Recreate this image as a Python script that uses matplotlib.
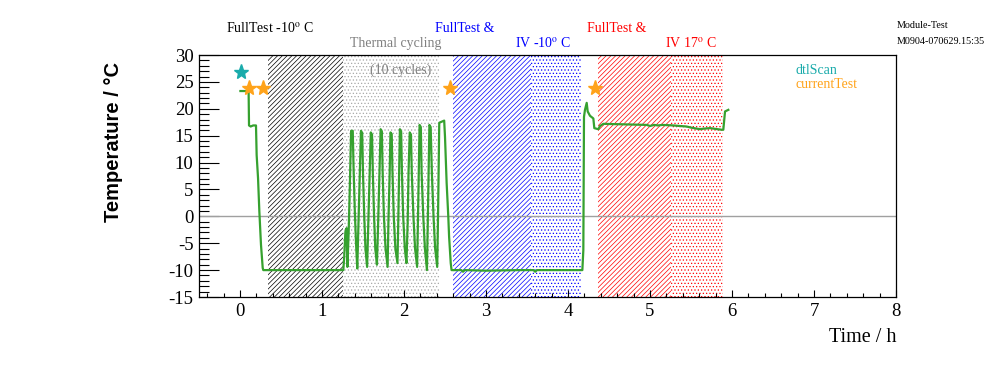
import numpy as np
import matplotlib
matplotlib.use('Agg')
import matplotlib.pyplot as plt
from matplotlib.ticker import MultipleLocator

plt.rcParams['font.family'] = ['Liberation Serif', 'DejaVu Serif']
plt.rcParams['mathtext.fontset'] = 'stix'
plt.rcParams['axes.unicode_minus'] = False
plt.rcParams['hatch.linewidth'] = 0.5

W, H = 996, 372

# temperature log (time in h, temperature in deg C)
time_h = [0.005, 0.105, 0.11, 0.13, 0.16, 0.195, 0.203, 0.22, 0.236, 0.256, 0.277, 0.284,
          0.6, 0.9, 1.26,
          1.27, 1.285, 1.30, 1.31, 1.325, 1.34, 1.355, 1.375, 1.385, 1.40, 1.415,
          1.43, 1.445, 1.46, 1.475, 1.49, 1.50, 1.515, 1.53,
          1.55, 1.565, 1.58, 1.595, 1.61, 1.62, 1.635, 1.65,
          1.67, 1.685, 1.70, 1.715, 1.73, 1.74, 1.755, 1.775,
          1.80, 1.81, 1.825, 1.835, 1.85, 1.86, 1.875, 1.895,
          1.92, 1.93, 1.94, 1.95, 1.965, 1.975, 1.99, 2.01,
          2.03, 2.045, 2.055, 2.07, 2.085, 2.095, 2.115, 2.135,
          2.16, 2.17, 2.18, 2.19, 2.205, 2.215, 2.235, 2.255,
          2.28, 2.29, 2.30, 2.31, 2.325, 2.34, 2.36, 2.38,
          2.405, 2.415, 2.425, 2.43, 2.46, 2.49, 2.50, 2.52, 2.54, 2.55, 2.57, 2.58,
          2.70, 2.72, 2.74, 3.0, 3.4, 3.58, 3.60, 3.62, 4.175,
          4.187, 4.195, 4.207, 4.228, 4.24, 4.268, 4.309, 4.321, 4.37, 4.39, 4.431,
          4.7, 4.96, 5.0, 5.05, 5.1, 5.15, 5.285, 5.447, 5.50, 5.61, 5.65, 5.732,
          5.874, 5.894, 5.915, 5.955]
temp_c = [23.3, 23.3, 16.9, 16.7, 16.9, 16.9, 11.4, 7.1, 0.9, -5.3, -9.6, -10.0,
          -10.0, -10.0, -10.0,
          -7.8, -2.9, -2.2, -9.4, -3, 6, 15.9, 15.9, 9, 1, -5,
          -9.7, -1, 8, 15.9, 15.5, 8, 0, -6,
          -9.4, -1, 8, 15.6, 15.2, 8, 0, -6,
          -9.0, -1, 8, 16.2, 15.8, 8, 0, -6,
          -9.4, -1, 8, 15.6, 15.3, 8, 0, -6,
          -8.7, -1, 8, 16.2, 15.8, 8, 0, -6,
          -8.7, -1, 8, 15.6, 15.2, 8, 0, -6,
          -9.4, -1, 8, 17.0, 16.6, 8, 0, -6,
          -10.0, -1, 8, 17.0, 16.6, 8, 0, -6,
          -9.4, 0, 12, 17.4, 17.6, 17.8, 14.8, 6.2, 0, -3.8, -8.7, -10.0,
          -10.0, -10.3, -10.0, -10.1, -10.0, -10.0, -10.3, -10.0, -10.0,
          -6.3, 18.5, 19.8, 21.1, 19.5, 18.7, 18.2, 16.4, 16.2, 16.8, 17.2,
          17.1, 17.0, 16.8, 17.0, 16.9, 17.0, 16.9, 16.7, 16.5, 16.2, 16.3, 16.4,
          16.1, 16.1, 19.5, 19.8]

# test markers
dtl_time = [0.008]
dtl_temp = [26.9]
cur_time = [0.11, 0.284, 2.56, 4.33]
cur_temp = [23.8, 23.8, 23.8, 23.8]

# shaded test phases
span_start = [0.345, 1.26, 2.60, 3.55, 4.36, 5.26]
span_end = [1.26, 2.43, 3.55, 4.16, 5.26, 5.89]
span_color = ['black', '#a8a8a8', '#0000ff', '#0000ff', '#ff0000', '#ff0000']
span_hatch = ['///////', '.....', '///////', '.....', '///////', '.....']

fig = plt.figure(figsize=(W / 100, H / 100), dpi=100)
ax = fig.add_axes([199 / W, 1 - 297 / H, 697 / W, 242 / H])

for x0, x1, c, h in zip(span_start, span_end, span_color, span_hatch):
    ax.axvspan(x0, x1, facecolor='none', edgecolor=c, hatch=h, lw=0, zorder=1)

ax.axhline(0, color='#a0a0a0', lw=1.0, zorder=2)
ax.plot(time_h, temp_c, color='#36a12f', lw=1.6, zorder=3)
ax.plot(dtl_time, dtl_temp, ls='none', marker='*', ms=11, color='#1aabab', zorder=4)
ax.plot(cur_time, cur_temp, ls='none', marker='*', ms=11, color='#ffa31a', zorder=4)

ax.set_xlim(-0.5, 8)
ax.set_ylim(-15, 30)
ax.xaxis.set_major_locator(MultipleLocator(1))
ax.xaxis.set_minor_locator(MultipleLocator(0.2))
ax.yaxis.set_major_locator(MultipleLocator(5))
ax.yaxis.set_minor_locator(MultipleLocator(1))
ax.tick_params(axis='x', which='major', direction='in', length=5, width=0.8,
               labelsize=13.5, pad=4, top=False)
ax.tick_params(axis='x', which='minor', direction='in', length=2.6, width=0.8, top=False)
ax.tick_params(axis='y', which='major', direction='in', length=14.4, width=0.8,
               labelsize=13.5, pad=4, right=False)
ax.tick_params(axis='y', which='minor', direction='in', length=7.2, width=0.8, right=False)
for s in ax.spines.values():
    s.set_linewidth(0.9)

def ftext(px, py, s, **kw):
    fig.text(px / W, 1 - py / H, s, **kw)

ftext(896, 337, 'Time / h', fontsize=14.5, ha='right', va='center')
ftext(113, 62, 'Temperature / °C', fontsize=14.5, fontweight='bold', rotation=90,
      ha='center', va='top', family=['Liberation Sans', 'DejaVu Sans'])

ftext(270, 28, r'FullTest -10$^{\rm o}$ C', fontsize=10, ha='center', va='center', color='black')
ftext(396, 43, 'Thermal cycling', fontsize=10, ha='center', va='center', color='#808080')
ftext(401, 70, '(10 cycles)', fontsize=10, ha='center', va='center', color='#808080')
ftext(465, 28, 'FullTest &', fontsize=10, ha='center', va='center', color='#0000ff')
ftext(543, 43, r'IV -10$^{\rm o}$ C', fontsize=10, ha='center', va='center', color='#0000ff')
ftext(617, 28, 'FullTest &', fontsize=10, ha='center', va='center', color='#ff0000')
ftext(691, 43, r'IV 17$^{\rm o}$ C', fontsize=10, ha='center', va='center', color='#ff0000')
ftext(796, 70, 'dtlScan', fontsize=10, ha='left', va='center', color='#1aabab')
ftext(796, 85, 'currentTest', fontsize=10, ha='left', va='center', color='#ffa31a')
ftext(897, 25, 'Module-Test', fontsize=7.3, ha='left', va='center')
ftext(897, 42, 'M0904-070629.15:35', fontsize=7.3, ha='left', va='center')

fig.savefig('out.png', dpi=100)
